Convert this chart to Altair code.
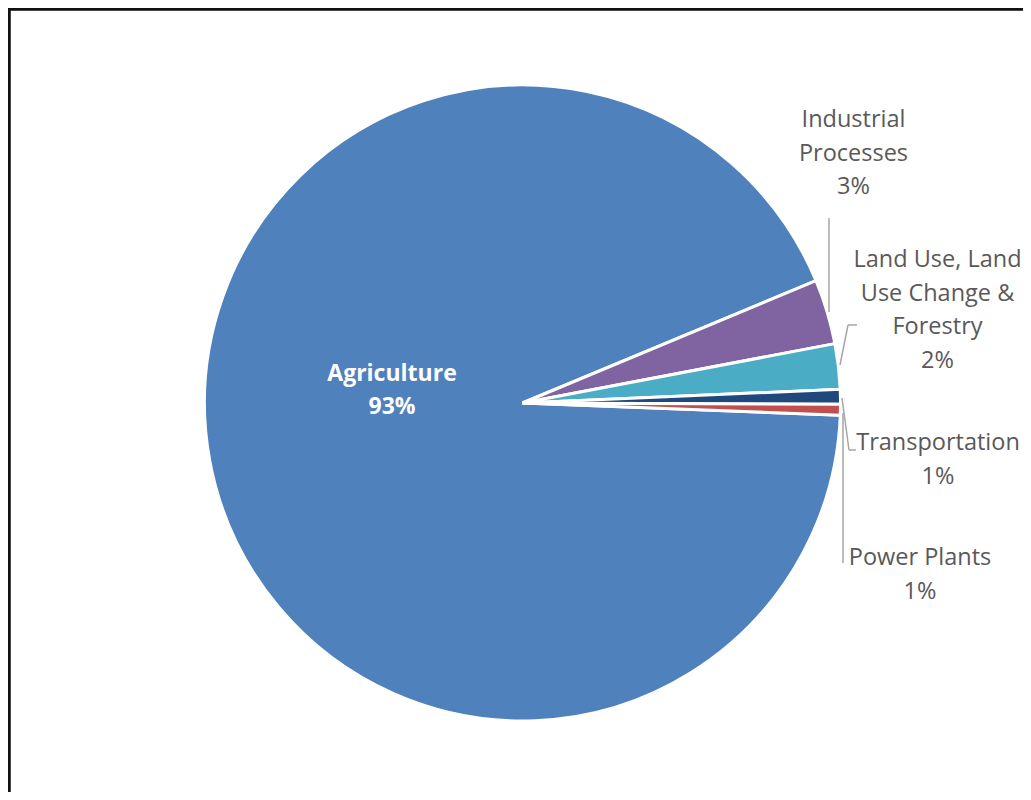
import math
import altair as alt
import pandas as pd

# ---- data ----
categories = ["Agriculture", "Industrial Processes",
              "Land Use, Land Use Change & Forestry", "Transportation", "Power Plants"]
shares = [93.1, 3.3, 2.3, 0.75, 0.55]
pct_labels = ["93%", "3%", "2%", "1%", "1%"]
label_text = ["Agriculture", "Industrial\nProcesses", "Land Use, Land\nUse Change &\nForestry",
              "Transportation", "Power Plants"]
colors = ["#4F81BD", "#8064A2", "#4BACC6", "#1F497D", "#C0504D"]

# ---- layout (style) ----
W, H = 1015, 784
CX, CY, R = 514.5, 395.0, 318
START_DEG = 92.2
start = math.radians(START_DEG)
# label anchor (center x, first baseline y) in chart pixels
label_pos = [(384, 372.7), (845.5, 119), (929.5, 259), (930, 442), (912, 557)]
# leader line polylines in chart pixels
leaders = {
    "Industrial Processes": [(821, 210), (821, 304)],
    "Land Use, Land Use Change & Forestry": [(849, 317), (840, 317), (832, 357)],
    "Transportation": [(834, 390), (841, 442), (848, 442)],
    "Power Plants": [(835, 405), (835, 555)],
}

df = pd.DataFrame({
    "category": categories,
    "share": shares,
    "order": list(range(len(categories))),
    "label": [f"{t}\n{p}" for t, p in zip(label_text, pct_labels)],
    "lx": [p[0] for p in label_pos],
    "ly": [p[1] for p in label_pos],
})

total = sum(shares)
pie = alt.Chart(df).mark_arc(outerRadius=R, stroke="white", strokeWidth=3).encode(
    theta=alt.Theta("share:Q", stack=True,
                    scale=alt.Scale(domain=[0, total], range=[start, start + 2 * math.pi])),
    order=alt.Order("order:Q"),
    color=alt.Color("category:N", scale=alt.Scale(domain=categories, range=colors), legend=None),
    x=alt.value(CX),
    y=alt.value(CY),
)

inner_lbl = alt.Chart(df).transform_filter(alt.datum.order == 0).mark_text(
    font="Open Sans", fontSize=23, fontWeight="bold", color="white",
    align="center", baseline="alphabetic", lineBreak="\n", lineHeight=33.5,
).encode(
    x=alt.X("lx:Q", scale=None), y=alt.Y("ly:Q", scale=None), text="label:N"
)

outer_lbl = alt.Chart(df).transform_filter(alt.datum.order > 0).mark_text(
    font="Open Sans", fontSize=23.5, color="#595959",
    align="center", baseline="alphabetic", lineBreak="\n", lineHeight=33.5,
).encode(
    x=alt.X("lx:Q", scale=None), y=alt.Y("ly:Q", scale=None), text="label:N"
)

seg_rows = []
for cat, pts in leaders.items():
    for (x1, y1), (x2, y2) in zip(pts[:-1], pts[1:]):
        seg_rows.append({"category": cat, "x1": x1, "y1": y1, "x2": x2, "y2": y2})
segs = pd.DataFrame(seg_rows)

lead = alt.Chart(segs).mark_rule(color="#A6A6A6", strokeWidth=1.5).encode(
    x=alt.X("x1:Q", scale=None), y=alt.Y("y1:Q", scale=None),
    x2="x2:Q", y2="y2:Q",
)

frame_left = alt.Chart(df).mark_rule(color="#111111", strokeWidth=2.5).encode(
    x=alt.value(1), y=alt.value(0), y2=alt.value(H)
)
frame_top = alt.Chart(df).mark_rule(color="#111111", strokeWidth=2.5).encode(
    x=alt.value(0), x2=alt.value(W), y=alt.value(1)
)

chart = alt.layer(pie, lead, inner_lbl, outer_lbl, frame_left, frame_top).properties(
    width=W, height=H, padding=0, autosize=alt.AutoSizeParams(type="none"),
    background="white",
).configure_view(stroke=None)

chart.save("out.html", embed_options={"renderer": "svg", "actions": False})
